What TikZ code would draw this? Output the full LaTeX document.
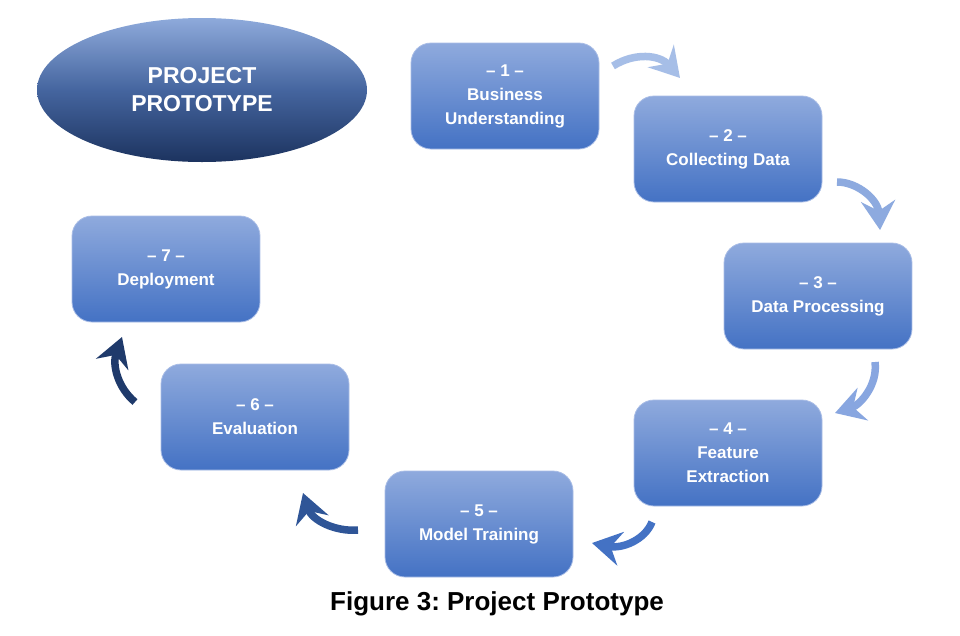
\documentclass[tikz,border=0pt]{standalone}
\usepackage{fontspec}
\setmainfont{Liberation Sans}
\usetikzlibrary{arrows.meta,shapes.geometric}
\frenchspacing
\definecolor{boxtop}{HTML}{8FAADD}
\definecolor{boxbot}{HTML}{4472C4}
\definecolor{boxedge}{HTML}{A9BDE6}
\definecolor{elltop}{HTML}{8EAADB}
\definecolor{ellmid}{HTML}{45659F}
\definecolor{ellbot}{HTML}{1C335F}
\definecolor{arA}{HTML}{A6BEE7}
\definecolor{arB}{HTML}{8DAADF}
\definecolor{arC}{HTML}{88A6E0}
\definecolor{arD}{HTML}{4472C4}
\definecolor{arE}{HTML}{2F5597}
\definecolor{arF}{HTML}{1F3A6B}
\begin{document}
\begin{tikzpicture}[x=1pt,y=-1pt,
  stage/.style={rounded corners=20pt, minimum width=188pt, minimum height=106pt,
    top color=boxtop, bottom color=boxbot, draw=boxedge, line width=0.8pt,
    text=white, font=\fontsize{17}{24}\selectfont\bfseries, align=center, inner sep=0pt},
  flow/.style={line width=7.5pt, -{Stealth[length=29pt,width=34pt,inset=10pt]}}]
\useasboundingbox (0,0) rectangle (960,635);
\fill[white] (0,0) rectangle (960,635);

\node[ellipse, minimum width=330pt, minimum height=144pt, inner sep=0pt,
  top color=elltop, bottom color=ellbot, middle color=ellmid,
  text=white, font=\fontsize{23}{28}\selectfont\bfseries, align=center]
  (proj) at (202,90) {PROJECT\\PROTOTYPE};

\node[stage] (s1) at (505,96) {– 1 –\\Business\\Understanding};
\node[stage] (s2) at (728,149) {– 2 –\\Collecting Data};
\node[stage] (s3) at (818,296) {– 3 –\\Data Processing};
\node[stage] (s4) at (728,453) {– 4 –\\Feature\\Extraction};
\node[stage] (s5) at (479,524) {– 5 –\\Model Training};
\node[stage] (s6) at (255,417) {– 6 –\\Evaluation};
\node[stage] (s7) at (166,269) {– 7 –\\Deployment};

\coordinate (t1) at (613,66);  \coordinate (h1) at (680,78);
\coordinate (t2) at (837,182); \coordinate (h2) at (880,230);
\coordinate (t3) at (875,362); \coordinate (h3) at (835,413);
\coordinate (t4) at (652,522); \coordinate (h4) at (592,543);
\coordinate (t5) at (358,530); \coordinate (h5) at (303,493);
\coordinate (t6) at (135,402); \coordinate (h6) at (122,337);

\draw[flow, arA] (t1) .. controls (635,52) and (660,55) .. (h1);
\draw[flow, arB] (t2) .. controls (858,182) and (878,200) .. (h2);
\draw[flow, arC] (t3) .. controls (878,385) and (860,405) .. (h3);
\draw[flow, arD] (t4) .. controls (645,540) and (622,549) .. (h4);
\draw[flow, arE] (t5) .. controls (335,532) and (312,520) .. (h5);
\draw[flow, arF] (t6) .. controls (118,388) and (112,365) .. (h6);

\node[font=\fontsize{26}{30}\selectfont\bfseries, text=black] (cap) at (497,604)
  {Figure 3: Project Prototype};
\end{tikzpicture}
\end{document}
